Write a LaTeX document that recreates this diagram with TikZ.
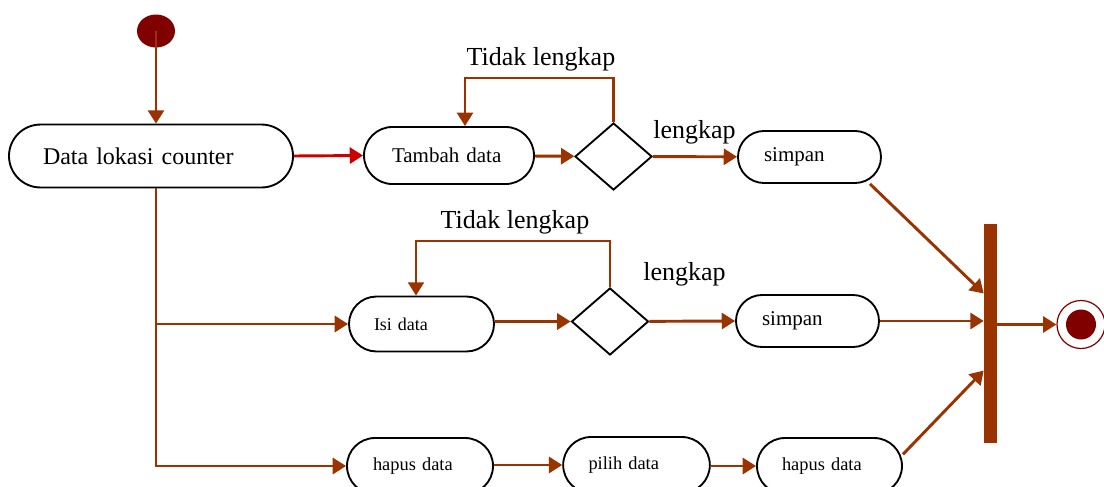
\documentclass[tikz,border=0pt]{standalone}
\usepackage{fontspec}
\setmainfont{Liberation Serif}
\usetikzlibrary{shapes.geometric,arrows.meta,calc}
\definecolor{flowbrown}{HTML}{993300}
\definecolor{flowred}{HTML}{CC0000}
\definecolor{darkred}{HTML}{800000}
\tikzset{
act/.style={draw, line width=1.4pt, fill=white, rounded corners=#1, minimum height=2*#1, align=left, inner ysep=0pt},
act/.default=20.5pt,
decide/.style={draw, diamond, line width=1.4pt, minimum width=57.75pt, minimum height=50.25pt, inner sep=0pt},
flow/.style={draw=flowbrown, line width=2.2pt, -{Triangle[length=10pt,width=12pt]}},
back/.style={flow, line width=1.6pt},
guard/.style={font=\fontsize{19.5pt}{23pt}\selectfont},
}

\begin{document}
\begin{tikzpicture}[x=0.75pt,y=-0.75pt]
\useasboundingbox (0,0) rectangle (1104,486);

%start and end
\node[ellipse, fill=darkred, minimum width=28.5pt, minimum height=24.75pt, inner sep=0pt] (start) at (156,31) {};
\node[circle, draw=darkred, line width=0.9pt, fill=white, minimum size=36pt, inner sep=0pt] (finish) at (1081,324.5) {};
\node[circle, fill=darkred, minimum size=22.5pt, inner sep=0pt] (finishdot) at (finish) {};

%activities
\node[act=23.6pt, inner xsep=25.5pt, text width=162pt, font=\fontsize{18pt}{21pt}\selectfont] (data) at (151,156) {Data lokasi counter};
\node[act=21.4pt, inner xsep=21pt, text width=85.5pt, font=\fontsize{15.75pt}{18pt}\selectfont] (tambah) at (449,155.5) {Tambah data};
\node[act=19.5pt, inner xsep=19.5pt, text width=68.25pt, font=\fontsize{15.75pt}{18pt}\selectfont] (simpan1) at (809.5,157) {simpan};
\node[act=20.6pt, inner xsep=18.75pt, text width=71.25pt, font=\fontsize{13.5pt}{16pt}\selectfont] (isi) at (421.5,324) {Isi data};
\node[act=19.5pt, inner xsep=19.5pt, text width=68.25pt, font=\fontsize{15.75pt}{18pt}\selectfont] (simpan2) at (807.5,321) {simpan};
\node[act=21pt, inner xsep=19.5pt, text width=70.5pt, font=\fontsize{13.8pt}{16pt}\selectfont] (hapusa) at (420,466) {hapus data};
\node[act=21pt, inner xsep=19pt, text width=72pt, font=\fontsize{13.8pt}{16pt}\selectfont] (pilih) at (636.5,465) {pilih data};
\node[act=21pt, inner xsep=18.75pt, text width=71.25pt, font=\fontsize{13.8pt}{16pt}\selectfont] (hapusb) at (829.5,466) {hapus data};

%decisions and join bar
\node[decide] (d1) at (613.5,156.5) {};
\node[decide] (d2) at (610,321.5) {};
\node[fill=flowbrown, minimum width=9.75pt, minimum height=164.25pt, inner sep=0pt] (bar) at (990.5,333.5) {};

%guards
\node[guard] (no1) at (541,59) {Tidak lengkap};
\node[guard] (yes1) at (694.5,132) {lengkap};
\node[guard] (no2) at (515,222) {Tidak lengkap};
\node[guard] (yes2) at (684.5,274) {lengkap};

%flows
\draw[flow] (start.center) -- (start.center |- data.north);
\draw[flow, draw=flowred] (data.east) -- (tambah.west);
\draw[flow] (tambah) -- (d1);
\draw[flow] (d1) -- (simpan1);
\coordinate (t1) at (465,78);
\draw[back] (d1.north) |- (t1) -- (t1 |- tambah.north);

\coordinate (fork) at (start.center |- data.south);
\draw[flow] (fork) |- (isi.west);
\draw[flow] (fork) |- (hapusa.west);

\draw[flow] (isi.east |- d2) -- (d2.west);
\draw[flow] (d2) -- (simpan2.west);
\coordinate (t2) at (416,241);
\draw[back] (d2.north) |- (t2) -- (t2 |- isi.north);

\draw[flow] (hapusa.east |- pilih) -- (pilih.west);
\draw[flow] (pilih.east |- hapusb) -- (hapusb.west);

\draw[flow] (simpan1.-24) -- ($(bar.west)+(0,-40)$);
\draw[flow] (simpan2.east) -- (bar.west |- simpan2.east);
\draw[flow] (hapusb.9) -- ($(bar.west)+(0,37)$);
\draw[flow] (bar.east |- finish) -- (finish.west);

\end{tikzpicture}
\end{document}
